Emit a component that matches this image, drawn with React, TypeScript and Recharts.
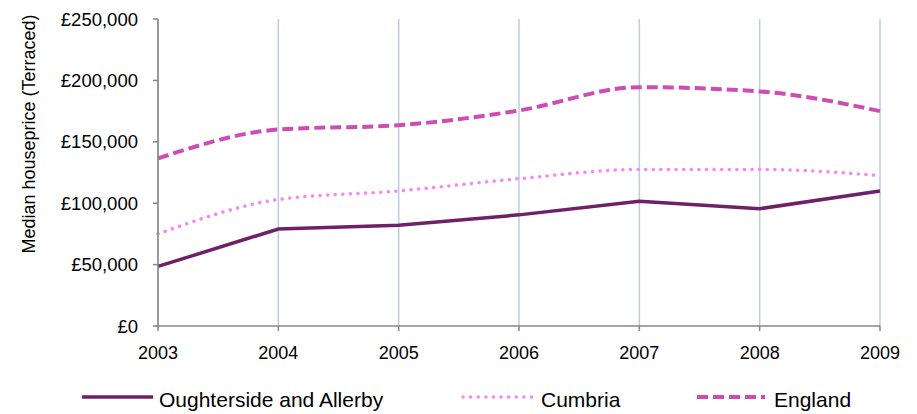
import { CartesianGrid, Legend, Line, LineChart, XAxis, YAxis } from "recharts";

const years = ["2003", "2004", "2005", "2006", "2007", "2008", "2009"];
const oughterside = [48500, 79000, 82000, 90500, 101500, 95500, 110000];
const cumbria = [75000, 103000, 110000, 120000, 127500, 127500, 122500];
const england = [136500, 160000, 163500, 175500, 194500, 191000, 175000];
const yTicks = [0, 50000, 100000, 150000, 200000, 250000];

const series = [
  { key: "oughterside", name: "Oughterside and Allerby", color: "#6e2068", dash: undefined, width: 3.5, cap: "butt", curve: "linear" },
  { key: "cumbria", name: "Cumbria", color: "#f38af0", dash: "0.1 7.5", width: 3.5, cap: "round", curve: "monotone" },
  { key: "england", name: "England", color: "#cc4db4", dash: "11 5", width: 4, cap: "butt", curve: "monotone" },
] as const;

const data = years.map((year, i) => ({
  year,
  oughterside: oughterside[i],
  cumbria: cumbria[i],
  england: england[i],
}));

const font = "'Liberation Sans', Arial, sans-serif";
const fmt = (v: number) => "£" + v.toLocaleString("en-GB");

// legend layout: line start, line end, text start
const legendPos = [
  [82, 153, 159],
  [463, 532, 541],
  [697, 765, 774],
];

function ChartLegend() {
  return (
    <div style={{ position: "relative", height: 48, fontFamily: font, fontSize: 21, color: "#000" }}>
      {series.map((s, i) => {
        const [a, b, t] = legendPos[i];
        return (
          <div key={s.key}>
            <svg width={b - a + 6} height={10} style={{ position: "absolute", left: a - 3, top: 26 }}>
              <line
                x1={3}
                x2={b - a + 3}
                y1={5}
                y2={5}
                stroke={s.color}
                strokeWidth={s.width}
                strokeDasharray={s.dash}
                strokeLinecap={s.cap}
              />
            </svg>
            <span style={{ position: "absolute", left: t, top: 21, lineHeight: "26px", whiteSpace: "nowrap" }}>{s.name}</span>
          </div>
        );
      })}
    </div>
  );
}

export default function App() {
  return (
    <div style={{ position: "absolute", left: 0, top: 0, width: 917, height: 414, background: "#fff" }}>
      <LineChart width={917} height={414} data={data} margin={{ top: 19, right: 37, left: 0, bottom: 0 }}>
        <CartesianGrid stroke="#b9cde5" strokeWidth={1.5} horizontal={false} />
        <XAxis
          dataKey="year"
          height={40}
          tickSize={5}
          tickMargin={15}
          tick={{ fontSize: 18, fill: "#000", fontFamily: font }}
          axisLine={{ stroke: "#868686", strokeWidth: 1.5 }}
          tickLine={{ stroke: "#868686", strokeWidth: 1.5 }}
          interval={0}
        />
        <YAxis
          width={158}
          domain={[0, 250000]}
          ticks={yTicks}
          tickFormatter={fmt}
          tickSize={5}
          tickMargin={15}
          tick={{ fontSize: 18.5, fill: "#000", fontFamily: font }}
          axisLine={{ stroke: "#868686", strokeWidth: 1.5 }}
          tickLine={{ stroke: "#868686", strokeWidth: 1.5 }}
          label={{
            content: () => (
              <text
                x={29}
                y={134}
                transform="rotate(-90 29 134)"
                textAnchor="middle"
                dominantBaseline="central"
                fontSize={18}
                fontFamily={font}
                fill="#000"
              >
                Median houseprice (Terraced)
              </text>
            ),
          }}
        />
        <Legend verticalAlign="bottom" height={48} content={() => <ChartLegend />} />
        {series.map((s) => (
          <Line
            key={s.key}
            type={s.curve}
            dataKey={s.key}
            name={s.name}
            stroke={s.color}
            strokeWidth={s.width}
            strokeDasharray={s.dash}
            strokeLinecap={s.cap}
            dot={false}
            activeDot={false}
            isAnimationActive={false}
          />
        ))}
      </LineChart>
    </div>
  );
}
